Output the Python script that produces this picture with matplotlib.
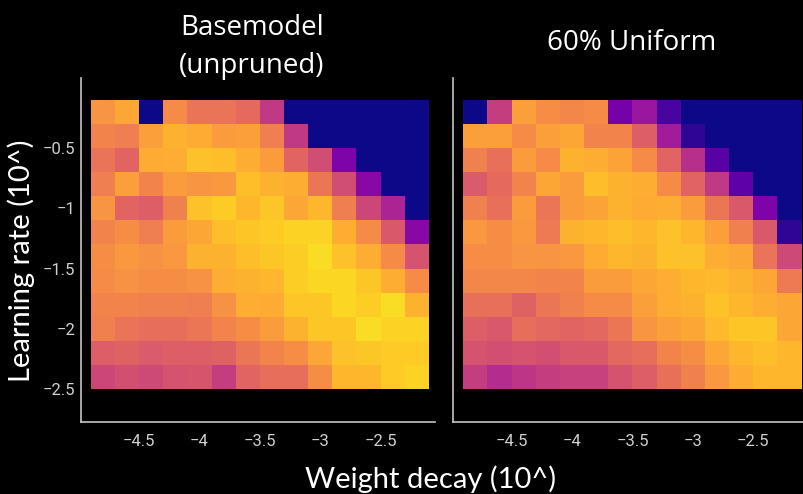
import matplotlib
matplotlib.use("Agg")
import matplotlib.pyplot as plt
import numpy as np

# log10 grid (cell centres)
weight_decay = [-4.8, -4.6, -4.4, -4.2, -4.0, -3.8, -3.6, -3.4, -3.2, -3.0, -2.8, -2.6, -2.4, -2.2]
learning_rate = [-0.2, -0.4, -0.6, -0.8, -1.0, -1.2, -1.4, -1.6, -1.8, -2.0, -2.2, -2.4]

x_ticks = [-4.5, -4, -3.5, -3, -2.5]
x_ticklabels = ["\u22124.5", "\u22124", "\u22123.5", "\u22123", "\u22122.5"]
y_ticks = [-0.5, -1, -1.5, -2, -2.5]
y_ticklabels = ["\u22120.5", "\u22121", "\u22121.5", "\u22122", "\u22122.5"]

titles = ["Basemodel\n(unpruned)", "60% Uniform"]

# score per cell (rows = learning rate top->bottom, cols = weight decay)
base_scores = [
    [0.75, 0.80, 0.00, 0.72, 0.65, 0.65, 0.62, 0.45, 0.00, 0.00, 0.00, 0.00, 0.00, 0.00],
    [0.70, 0.68, 0.78, 0.83, 0.81, 0.77, 0.78, 0.68, 0.45, 0.00, 0.00, 0.00, 0.00, 0.00],
    [0.65, 0.60, 0.81, 0.82, 0.87, 0.86, 0.82, 0.77, 0.60, 0.52, 0.25, 0.00, 0.00, 0.00],
    [0.68, 0.78, 0.70, 0.77, 0.75, 0.76, 0.86, 0.83, 0.82, 0.66, 0.52, 0.28, 0.00, 0.00],
    [0.75, 0.60, 0.58, 0.69, 0.87, 0.89, 0.84, 0.88, 0.80, 0.84, 0.68, 0.50, 0.38, 0.00],
    [0.70, 0.73, 0.68, 0.77, 0.80, 0.86, 0.88, 0.89, 0.91, 0.91, 0.82, 0.72, 0.56, 0.28],
    [0.73, 0.76, 0.74, 0.76, 0.83, 0.83, 0.86, 0.88, 0.90, 0.93, 0.87, 0.82, 0.72, 0.54],
    [0.72, 0.74, 0.73, 0.73, 0.74, 0.82, 0.83, 0.84, 0.90, 0.92, 0.92, 0.88, 0.82, 0.72],
    [0.70, 0.70, 0.69, 0.69, 0.68, 0.74, 0.82, 0.81, 0.88, 0.88, 0.92, 0.90, 0.93, 0.83],
    [0.69, 0.65, 0.63, 0.63, 0.66, 0.70, 0.73, 0.77, 0.83, 0.88, 0.88, 0.93, 0.91, 0.91],
    [0.58, 0.59, 0.57, 0.58, 0.58, 0.59, 0.66, 0.70, 0.73, 0.80, 0.87, 0.88, 0.89, 0.89],
    [0.50, 0.53, 0.51, 0.54, 0.55, 0.47, 0.60, 0.63, 0.63, 0.73, 0.84, 0.84, 0.89, 0.91],
]

pruned_scores = [
    [0.00, 0.47, 0.78, 0.73, 0.71, 0.72, 0.23, 0.33, 0.12, 0.00, 0.00, 0.00, 0.00, 0.00],
    [0.78, 0.78, 0.72, 0.78, 0.80, 0.70, 0.70, 0.58, 0.35, 0.06, 0.00, 0.00, 0.00, 0.00],
    [0.69, 0.64, 0.77, 0.72, 0.83, 0.82, 0.79, 0.72, 0.60, 0.42, 0.16, 0.00, 0.00, 0.00],
    [0.57, 0.62, 0.70, 0.80, 0.77, 0.86, 0.83, 0.82, 0.72, 0.60, 0.45, 0.17, 0.00, 0.00],
    [0.69, 0.64, 0.77, 0.66, 0.77, 0.79, 0.83, 0.81, 0.82, 0.77, 0.66, 0.56, 0.25, 0.00],
    [0.76, 0.73, 0.76, 0.67, 0.83, 0.84, 0.86, 0.84, 0.87, 0.84, 0.78, 0.69, 0.56, 0.06],
    [0.73, 0.73, 0.75, 0.75, 0.76, 0.81, 0.84, 0.83, 0.87, 0.87, 0.82, 0.80, 0.65, 0.51],
    [0.71, 0.71, 0.71, 0.70, 0.70, 0.77, 0.77, 0.80, 0.82, 0.84, 0.85, 0.83, 0.80, 0.67],
    [0.64, 0.64, 0.59, 0.66, 0.69, 0.72, 0.72, 0.78, 0.82, 0.83, 0.87, 0.84, 0.82, 0.80],
    [0.58, 0.56, 0.63, 0.61, 0.60, 0.61, 0.66, 0.75, 0.78, 0.80, 0.85, 0.88, 0.88, 0.80],
    [0.54, 0.53, 0.54, 0.53, 0.56, 0.56, 0.61, 0.63, 0.70, 0.73, 0.80, 0.84, 0.86, 0.84],
    [0.47, 0.41, 0.44, 0.47, 0.48, 0.48, 0.54, 0.58, 0.64, 0.69, 0.76, 0.81, 0.84, 0.84],
]

W, H = 804, 494
fig = plt.figure(figsize=(W / 100, H / 100), dpi=100, facecolor="black")

spine_col = "#c4c4c4"
tick_col = "#d0d0d0"

# axes boxes in pixels: left, bottom(from top), right, top
boxes = [(80.7, 421.7, 435.0, 78.0), (453.3, 421.7, 807.6, 78.0)]
title_x = [252, 632]

for i, (scores, box) in enumerate(zip([base_scores, pruned_scores], boxes)):
    l, b, r, t = box
    ax = fig.add_axes([l / W, 1 - b / H, (r - l) / W, (b - t) / H])
    ax.set_facecolor("black")
    ax.pcolormesh(weight_decay, learning_rate, np.array(scores), cmap="plasma",
                  vmin=0, vmax=1, shading="nearest", edgecolors="none")
    ax.set_xlim(-4.983, -2.05)
    ax.set_ylim(-2.77, 0.08)
    for s in ["top", "right"]:
        ax.spines[s].set_visible(False)
    for s in ["left", "bottom"]:
        ax.spines[s].set_color(spine_col)
        ax.spines[s].set_linewidth(1.2)
    ax.set_xticks(x_ticks)
    ax.set_xticklabels(x_ticklabels, family="Roboto", fontsize=12, color=tick_col)
    ax.tick_params(axis="x", length=0, pad=9)
    if i == 0:
        ax.set_yticks(y_ticks)
        ax.set_yticklabels(y_ticklabels, family="Roboto", fontsize=12, color=tick_col)
        ax.tick_params(axis="y", length=0, pad=4)
    else:
        ax.set_yticks([])

fig.text(252 / W, 1 - 47 / H, titles[0], ha="center", va="center",
         family="Open Sans", fontsize=20, color="white", linespacing=1.45)
fig.text(632 / W, 1 - 43 / H, titles[1], ha="center", va="center",
         family="Open Sans", fontsize=20, color="white")

fig.text(431 / W, 1 - 488 / H, "Weight decay (10^)", ha="center", va="baseline",
         family="Lato", fontsize=21, color="white")
fig.text(21 / W, 1 - 261 / H, "Learning rate (10^)", ha="center", va="center",
         rotation=90, family="Lato", fontsize=21, color="white")

fig.savefig("out.png", dpi=100, facecolor="black")
